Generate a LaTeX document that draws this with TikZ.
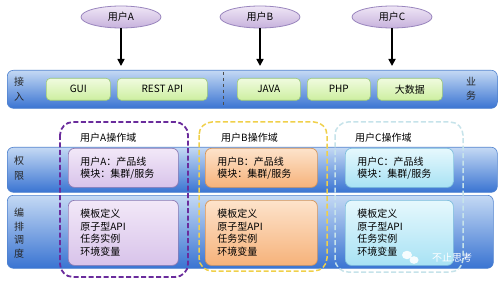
\documentclass[tikz,border=0pt]{standalone}
\usepackage{fontspec}
\setmainfont{Noto Sans CJK SC}
\usetikzlibrary{shapes.geometric,arrows.meta}
\definecolor{bandTop}{HTML}{C4D9F4}
\definecolor{bandMid}{HTML}{8CB2EC}
\definecolor{bandBot}{HTML}{3A74D2}
\definecolor{bandEdge}{HTML}{4F82CF}
\definecolor{ellTop}{HTML}{EFE6F6}
\definecolor{ellBot}{HTML}{C7B2DC}
\definecolor{ellEdge}{HTML}{9A86BE}
\definecolor{grnTop}{HTML}{F0FBDF}
\definecolor{grnBot}{HTML}{CDEFA0}
\definecolor{grnEdge}{HTML}{9CC878}
\definecolor{purTop}{HTML}{F2E8F8}
\definecolor{purBot}{HTML}{D8C3EA}
\definecolor{purEdge}{HTML}{8E7BB4}
\definecolor{oraTop}{HTML}{FDE3CB}
\definecolor{oraBot}{HTML}{F6B27A}
\definecolor{oraEdge}{HTML}{D6955A}
\definecolor{cyaTop}{HTML}{E6F8FD}
\definecolor{cyaBot}{HTML}{A8E2F4}
\definecolor{cyaEdge}{HTML}{7DBEDD}
\definecolor{domA}{HTML}{6A2C9C}
\definecolor{domB}{HTML}{F0D04A}
\definecolor{domC}{HTML}{C6E3EA}
\begin{document}
\begin{tikzpicture}[x=1pt,y=-1pt,
  every node/.style={font=\fontsize{10}{12}\selectfont},
  band/.style={draw=bandEdge, line width=0.6pt, rounded corners=6pt, top color=bandTop, middle color=bandMid, bottom color=bandBot, anchor=north west, inner sep=0pt},
  userell/.style={ellipse, draw=ellEdge, line width=0.8pt, top color=ellTop, bottom color=ellBot, minimum width=80pt, minimum height=22pt, inner sep=0pt},
  techbox/.style={draw=grnEdge, line width=0.6pt, rounded corners=4pt, top color=grnTop, bottom color=grnBot, minimum height=22pt, anchor=north west, inner sep=0pt},
  inbox/.style={rounded corners=6pt, line width=0.7pt, anchor=north west, align=left, text width=86pt, inner xsep=12pt, inner ysep=0pt, minimum width=110pt},
  purbox/.style={inbox, draw=purEdge, top color=purTop, bottom color=purBot},
  orabox/.style={inbox, draw=oraEdge, top color=oraTop, bottom color=oraBot},
  cyabox/.style={inbox, draw=cyaEdge, top color=cyaTop, bottom color=cyaBot},
  sidelabel/.style={align=center, font=\fontsize{10}{14.5}\selectfont, text=black!85},
  domlabel/.style={anchor=west, inner sep=0pt},
  arr/.style={line width=1.6pt, -{Triangle[length=7pt,width=7pt]}},
  dom/.style={rounded corners=13pt, line width=1.8pt, dash pattern=on 5pt off 2.5pt}
]
\useasboundingbox (0,0) rectangle (500,283);
\fill[white] (0,0) rectangle (500,283);

% bands
\node[band, minimum width=490pt, minimum height=38pt] (access) at (7,70) {};
\node[band, minimum width=490pt, minimum height=45pt] (perm) at (7,147) {};
\node[band, minimum width=486pt, minimum height=73pt] (orch) at (7,195) {};

% side labels
\node[sidelabel] (lAccess) at (19,89) {接\\入};
\node[sidelabel] (lBiz) at (471,89) {业\\务};
\node[sidelabel] (lPerm) at (19,168) {权\\限};
\node[sidelabel, font=\fontsize{10}{13.5}\selectfont] (lOrch) at (19,233) {编\\排\\调\\度};

% tech boxes
\node[techbox, minimum width=64pt] (gui) at (46,78) {GUI};
\node[techbox, minimum width=90pt] (rest) at (117,78) {REST API};
\node[techbox, minimum width=63pt] (java) at (237,78) {JAVA};
\node[techbox, minimum width=63pt] (php) at (307,78) {PHP};
\node[techbox, minimum width=65pt] (bigdata) at (377,78) {大数据};
\coordinate (sepTop) at (223,72);
\coordinate (sepBot) at (223,106);
\draw[dashed, line width=0.7pt, black!70] (sepTop) -- (sepBot);

% users and arrows
\node[userell] (uA) at (121,17) {用户A};
\node[userell] (uB) at (260,17) {用户B};
\node[userell] (uC) at (392,17) {用户C};
\coordinate (tA) at (121,66);
\coordinate (tB) at (260,66);
\coordinate (tC) at (392,66);
\draw[arr] (uA.south) -- (tA);
\draw[arr] (uB.south) -- (tB);
\draw[arr] (uC.south) -- (tC);

% domains
\draw[dom, draw=domA] (60,122) rectangle (188,277);
\draw[dom, draw=domB, line width=1.5pt] (199,122) rectangle (327,271);
\draw[dom, draw=domC, line width=1.5pt] (335,122) rectangle (463,272);
\node[domlabel] (dA) at (80,138) {用户A操作域};
\node[domlabel] (dB) at (221,138) {用户B操作域};
\node[domlabel] (dC) at (355,138) {用户C操作域};

% permission boxes
\node[purbox, minimum height=39pt] (pA) at (68,148) {用户A：产品线\\模块：集群/服务};
\node[orabox, minimum height=39pt, minimum width=112pt, text width=88pt] (pB) at (205,148) {用户B：产品线\\模块：集群/服务};
\node[cyabox, minimum height=39pt, minimum width=108pt, text width=84pt] (pC) at (345,148) {用户C：产品线\\模块：集群/服务};

% orchestration boxes
\node[purbox, minimum height=65pt, font=\fontsize{10}{12.5}\selectfont] (oA) at (68,200) {模板定义\\原子型API\\任务实例\\环境变量};
\node[orabox, minimum height=65pt, minimum width=112pt, text width=88pt, font=\fontsize{10}{12.5}\selectfont] (oB) at (205,200) {模板定义\\原子型API\\任务实例\\环境变量};
\node[cyabox, minimum height=65pt, minimum width=108pt, text width=84pt, font=\fontsize{10}{12.5}\selectfont] (oC) at (345,200) {模板定义\\原子型API\\任务实例\\环境变量};

% watermark
\fill[white, opacity=0.9] (407,255) ellipse (5pt and 4.2pt);
\fill[white, opacity=0.9] (414,260) ellipse (4.5pt and 3.8pt);
\node[anchor=west, text=white, inner sep=0pt] (wm) at (432,258) {不止思考};
\end{tikzpicture}
\end{document}
